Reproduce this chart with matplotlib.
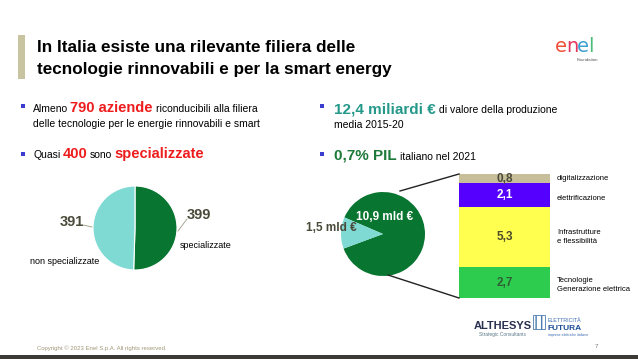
import matplotlib
matplotlib.use("Agg")
import matplotlib.pyplot as plt
import numpy as np

plt.rcParams['font.family'] = ['Liberation Sans', 'DejaVu Sans']

# data
aziende_labels = ['specializzate', 'non specializzate']
aziende_values = [399, 391]

valore_labels = ['10,9 mld €', '1,5 mld €']
valore_values = [10.9, 1.5]

segmenti = ['Tecnologie\nGenerazione elettrica', 'Infrastrutture\ne flessibilità',
            'elettrificazione', 'digitalizzazione']
segmenti_valori = [2.7, 5.3, 2.1, 0.8]
segmenti_testo = ['2,7', '5,3', '2,1', '0,8']
segmenti_colori = ['#2ecc4e', '#ffff4f', '#5500ff', '#c6bf99']
segmenti_testo_col = ['#2f5e36', '#4a4a2a', 'white', '#4a4a3a']

W, H = 638, 359
fig = plt.figure(figsize=(W / 100, H / 100), dpi=100)
ax = fig.add_axes([0, 0, 1, 1])
ax.set_xlim(0, W)
ax.set_ylim(H, 0)
ax.axis('off')
ax.set_zorder(10)
ax.patch.set_visible(False)


def px_axes(x0, y0, x1, y1):
    return fig.add_axes([x0 / W, 1 - y1 / H, (x1 - x0) / W, (y1 - y0) / H])


renderer = fig.canvas.get_renderer()


def runs(x, y, parts, gap=0.2):
    for txt, kw in parts:
        t = ax.text(x, y, txt, va='baseline', ha='left', **kw)
        bb = t.get_window_extent(renderer=renderer)
        x += bb.width + gap * kw.get('fontsize', 8) * 100 / 72


# title
ax.add_patch(plt.Rectangle((18, 35), 7, 44, color='#c8c3a0', lw=0))
ax.text(37, 52, 'In Italia esiste una rilevante filiera delle', fontsize=12.3,
        fontweight='bold', color='black', va='baseline')
ax.text(37, 74, 'tecnologie rinnovabili e per la smart energy', fontsize=12.3,
        fontweight='bold', color='black', va='baseline')

# enel logo
logo = dict(fontsize=14, family='DejaVu Sans')
runs(555, 52, [('e', dict(color='#f0503a', **logo)), ('n', dict(color='#e4335e', **logo)),
               ('e', dict(color='#3aa0d0', **logo)), ('l', dict(color='#4dbb7a', **logo))],
     gap=-0.05)
ax.text(598, 61, 'Foundation', fontsize=3.2, color='#555555', ha='right', va='baseline')

# bullets
blue = '#3b3bd0'
red = '#ee1c1c'
for bx, by in [(21, 104), (21, 152), (320, 104), (320, 152)]:
    ax.add_patch(plt.Rectangle((bx, by), 4, 4, color=blue, lw=0))

body = dict(fontsize=7.5, color='black')
runs(33, 112, [('Almeno', body),
               ('790 aziende', dict(fontsize=10.5, color=red, fontweight='bold')),
               ('riconducibili alla filiera', body)])
ax.text(33, 127, 'delle tecnologie per le energie rinnovabili e smart', va='baseline', **body)
runs(33, 158, [('Quasi', body),
               ('400', dict(fontsize=10.5, color=red, fontweight='bold')),
               ('sono', body),
               ('specializzate', dict(fontsize=10.5, color=red, fontweight='bold'))])

runs(334, 113, [('12,4 miliardi €', dict(fontsize=11, color='#24998a', fontweight='bold')),
                ('di valore della produzione', body)])
ax.text(334, 128, 'media 2015-20', va='baseline', **body)
runs(334, 160, [('0,7% PIL', dict(fontsize=11, color='#1e7a3a', fontweight='bold')),
                ('italiano nel 2021', body)])

# left pie
pa = px_axes(93, 186, 177, 270)
pa.pie(aziende_values, colors=['#087530', '#80dad4'], startangle=90, counterclock=False,
       wedgeprops=dict(edgecolor='white', linewidth=0.8))
pa.set_xlim(-1, 1)
pa.set_ylim(-1, 1)
pa.axis('off')

lab = dict(fontsize=10.5, fontweight='bold', color='#4a4a3a', va='center')
ax.text(60, 222, str(aziende_values[1]), ha='left', **lab)
ax.plot([83, 92], [225, 227], color='#9a9a80', lw=0.6)
ax.text(187, 215, str(aziende_values[0]), ha='left', **lab)
ax.plot([178, 187], [231, 219], color='#9a9a80', lw=0.6)
ax.text(180, 246, aziende_labels[0], fontsize=6.5, color='black', va='center')
ax.text(30, 261, aziende_labels[1], fontsize=6.5, color='black', va='center')

# right pie
tot = sum(valore_values)
small = 360 * valore_values[1] / tot
start = 178.5 - small / 2 - 360 * valore_values[0] / tot
pb = px_axes(341, 192, 425, 276)
pb.pie(valore_values, colors=['#087530', '#80dad4'], startangle=start, counterclock=True,
       wedgeprops=dict(edgecolor='none'))
pb.set_xlim(-1, 1)
pb.set_ylim(-1, 1)
pb.axis('off')
ax.text(385, 217, valore_labels[0], fontsize=8.5, fontweight='bold', color='white',
        ha='center', va='center')
ax.text(331, 228, valore_labels[1], fontsize=8.5, fontweight='bold', color='#4a4a3a',
        ha='center', va='center')

# connectors
ax.plot([400, 459], [191, 174], color='#222222', lw=1)
ax.plot([388, 459], [275, 298], color='#222222', lw=1)

# stacked bar
ba = px_axes(459, 174, 550, 298)
bottoms = np.concatenate([[0], np.cumsum(segmenti_valori)[:-1]])
ba.bar([0] * len(segmenti_valori), segmenti_valori, bottom=bottoms, width=1,
       color=segmenti_colori, edgecolor='none')
for b, v, t, c in zip(bottoms, segmenti_valori, segmenti_testo, segmenti_testo_col):
    ba.text(0, b + v / 2, t, ha='center', va='center', fontsize=8.5, fontweight='bold', color=c)
ba.set_xlim(-0.5, 0.5)
ba.set_ylim(0, sum(segmenti_valori))
ba.axis('off')

for lbl, yy in zip(segmenti, [285, 237, 199, 178]):
    ax.text(557, yy, lbl, fontsize=5.5, color='black', va='center', linespacing=1.3)

# footer
ax.text(37, 350, 'Copyright © 2023 Enel S.p.A. All rights reserved.', fontsize=4.3,
        color='#a09878', va='baseline')
ax.text(474, 329, 'ALTHESYS', fontsize=8, fontweight='bold', color='#2a3050', va='baseline')
ax.text(479, 336, 'Strategic Consultants', fontsize=3.5, color='#5a7a8a', va='baseline')
ax.add_patch(plt.Rectangle((533, 315), 12, 14, fill=False, ec='#4a7ab0', lw=0.6, hatch='|||'))
ax.text(548, 322, 'ELETTRICITÀ', fontsize=3.8, color='#3a6ab0', va='baseline')
ax.text(548, 330, 'FUTURA', fontsize=6, fontweight='bold', color='#1e4f9a', va='baseline')
ax.text(548, 336, 'imprese elettriche italiane', fontsize=2.5, color='#3a6ab0', va='baseline')
ax.text(598, 348, '7', fontsize=4.5, color='#777777', ha='right', va='baseline')
ax.add_patch(plt.Rectangle((0, 355), W, 4, color='#3b3a35', lw=0))

fig.savefig('out.png', dpi=100)
